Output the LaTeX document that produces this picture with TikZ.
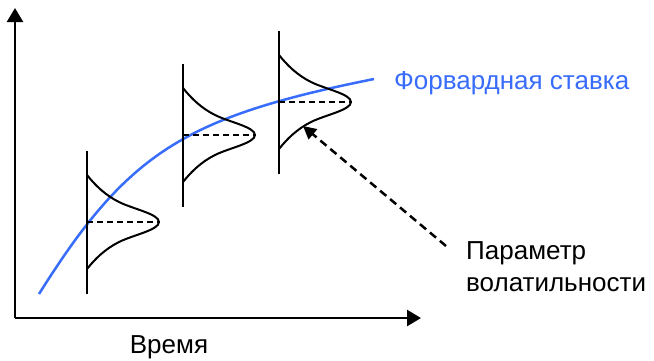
\documentclass[tikz,border=0pt]{standalone}
\usepackage{fontspec}
\setmainfont{Liberation Sans}
\usetikzlibrary{arrows.meta}
\definecolor{fwdblue}{RGB}{56,108,250}

\tikzset{
  axis/.style={line width=2.5pt, -{Triangle[length=14pt,width=16pt]}},
  stem/.style={line width=2.5pt},
  bell/.style={line width=2pt},
  meanline/.style={line width=2pt, dash pattern=on 6pt off 4pt},
  hint/.style={line width=2.5pt, dash pattern=on 8pt off 5pt, -{Triangle[length=13pt,width=13pt]}},
  lbl/.style={font=\fontsize{26}{32}\selectfont, inner sep=0pt}
}

\begin{document}
\begin{tikzpicture}[x=1pt, y=-1pt]

\useasboundingbox (0,0) rectangle (654,360);

\def\xA{87}  \def\yA{222}
\def\xB{183} \def\yB{135}
\def\xC{279} \def\yC{102}

% axes
\coordinate (origin) at (15,318);
\coordinate (ytop)   at (15,8);
\coordinate (xend)   at (421,318);
\draw[axis] (origin) -- (ytop);
\draw[axis] (origin) -- (xend);

% forward curve
\draw[fwdblue, line width=2.5pt] (39,294) .. controls (128,152) and (185,117) .. (374,79);

% distributions
\draw[stem] (\xA,\yA-71) -- (\xA,\yA+72);
\draw[bell, shift={(\xA,\yA)}] (0,-47) .. controls (8,-37) and (18,-27) .. (32,-20)
    .. controls (46,-13) and (72,-8) .. (72,0)
    .. controls (72,8) and (46,13) .. (32,20)
    .. controls (18,27) and (8,37) .. (0,47);
\draw[meanline] (\xA,\yA) -- (\xA+71,\yA);

\draw[stem] (\xB,\yB-71) -- (\xB,\yB+72);
\draw[bell, shift={(\xB,\yB)}] (0,-47) .. controls (8,-37) and (18,-27) .. (32,-20)
    .. controls (46,-13) and (72,-8) .. (72,0)
    .. controls (72,8) and (46,13) .. (32,20)
    .. controls (18,27) and (8,37) .. (0,47);
\draw[meanline] (\xB,\yB) -- (\xB+71,\yB);

\draw[stem] (\xC,\yC-71) -- (\xC,\yC+72);
\draw[bell, shift={(\xC,\yC)}] (0,-47) .. controls (8,-37) and (18,-27) .. (32,-20)
    .. controls (46,-13) and (72,-8) .. (72,0)
    .. controls (72,8) and (46,13) .. (32,20)
    .. controls (18,27) and (8,37) .. (0,47);
\draw[meanline] (\xC,\yC) -- (\xC+71,\yC);

% labels
\node[lbl, fwdblue, anchor=base west] (fwdlbl) at (394,89) {Форвардная ставка};
\node[lbl, anchor=base] (timelbl) at (169,353) {Время};
\node[lbl, anchor=north west, align=left] (vollbl) at (466,241) {Параметр\\волатильности};

% volatility pointer
\coordinate (hintstart) at (446,246);
\coordinate (hinttip)   at (303,126);
\draw[hint] (hintstart) -- (hinttip);

\end{tikzpicture}
\end{document}
